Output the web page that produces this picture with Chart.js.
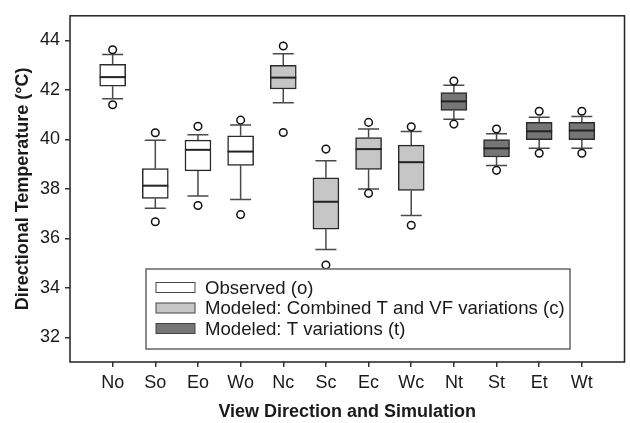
<!DOCTYPE html>
<html>
<head>
<meta charset="utf-8">
<script src="https://cdn.jsdelivr.net/npm/chart.js@4.4.1/dist/chart.umd.min.js"></script>
<style>
  body { margin: 0; background: #fff; }
  #wrap { width: 630px; height: 423px; position: relative; }
</style>
</head>
<body>
<div id="wrap"><canvas id="boxChart"></canvas></div>
<script>
// categories and which simulation group each belongs to
const categories = ['No', 'So', 'Eo', 'Wo', 'Nc', 'Sc', 'Ec', 'Wc', 'Nt', 'St', 'Et', 'Wt'];
const groups = ['o', 'o', 'o', 'o', 'c', 'c', 'c', 'c', 't', 't', 't', 't'];

// box statistics (deg C)
const lowOutlier  = [41.40, 36.67, 37.33, 36.96, 40.28, 34.92, 37.82, 36.53, 40.62, 38.75, 39.44, 39.44];
const lowWhisker  = [41.65, 37.22, 37.71, 37.57, 41.48, 35.55, 38.00, 36.92, 40.82, 38.95, 39.64, 39.64];
const q1          = [42.15, 37.61, 38.73, 38.95, 42.04, 36.37, 38.79, 37.94, 41.17, 39.29, 39.99, 39.99];
const median      = [42.52, 38.13, 39.58, 39.51, 42.50, 37.48, 39.61, 39.08, 41.54, 39.64, 40.33, 40.36];
const q3          = [43.04, 38.82, 39.97, 40.15, 43.00, 38.45, 40.08, 39.77, 41.90, 39.99, 40.69, 40.69];
const highWhisker = [43.43, 39.97, 40.19, 40.58, 43.47, 39.14, 40.42, 40.32, 42.19, 40.23, 40.90, 40.93];
const highOutlier = [43.63, 40.27, 40.53, 40.78, 43.78, 39.61, 40.69, 40.51, 42.36, 40.42, 41.14, 41.14];

const yTicks = [32, 34, 36, 38, 40, 42, 44];

const groupNames = {
    o: 'Observed (o)',
    c: 'Modeled: Combined T and VF variations (c)',
    t: 'Modeled: T variations (t)'
};
const groupFill = { o: '#ffffff', c: '#c6c6c6', t: '#767676' };

const FONT = "'Liberation Sans', Arial, sans-serif";
const INK = '#1a1a1a';

function boxData(g) {
    const out = [];
    categories.forEach(function(c, i) {
        if (groups[i] === g) out.push({ x: i + 1, y: [q1[i], q3[i]] });
    });
    return out;
}

const outlierPoints = [];
categories.forEach(function(c, i) {
    outlierPoints.push({ x: i + 1, y: lowOutlier[i] });
    outlierPoints.push({ x: i + 1, y: highOutlier[i] });
});

// whiskers, medians, frame and legend
const boxExtras = {
    id: 'boxExtras',
    beforeDatasetsDraw(chart) {
        const ctx = chart.ctx;
        const xs = chart.scales.x, ys = chart.scales.y;
        ctx.save();
        ctx.strokeStyle = '#4a4a4a';
        ctx.lineWidth = 1.5;
        categories.forEach(function(c, i) {
            const x = xs.getPixelForValue(i + 1);
            const half = 10.5;
            ctx.beginPath();
            ctx.moveTo(x, ys.getPixelForValue(q3[i]));
            ctx.lineTo(x, ys.getPixelForValue(highWhisker[i]));
            ctx.moveTo(x - half, ys.getPixelForValue(highWhisker[i]));
            ctx.lineTo(x + half, ys.getPixelForValue(highWhisker[i]));
            ctx.moveTo(x, ys.getPixelForValue(q1[i]));
            ctx.lineTo(x, ys.getPixelForValue(lowWhisker[i]));
            ctx.moveTo(x - half, ys.getPixelForValue(lowWhisker[i]));
            ctx.lineTo(x + half, ys.getPixelForValue(lowWhisker[i]));
            ctx.stroke();
        });
        ctx.restore();
    },
    afterDatasetsDraw(chart) {
        const ctx = chart.ctx;
        const xs = chart.scales.x, ys = chart.scales.y;
        ctx.save();
        ctx.strokeStyle = '#222';
        ctx.lineWidth = 2;
        categories.forEach(function(c, i) {
            const x = xs.getPixelForValue(i + 1);
            const y = ys.getPixelForValue(median[i]);
            ctx.beginPath();
            ctx.moveTo(x - 13, y);
            ctx.lineTo(x + 13, y);
            ctx.stroke();
        });
        ctx.restore();
    },
    afterDraw(chart) {
        const ctx = chart.ctx;
        const a = chart.chartArea;
        ctx.save();
        // plot frame
        ctx.strokeStyle = '#222';
        ctx.lineWidth = 1.5;
        ctx.strokeRect(a.left, a.top, a.right - a.left, a.bottom - a.top);

        // legend box
        const lx = 146, ly = 269, lw = 424, lh = 80;
        ctx.fillStyle = '#fff';
        ctx.fillRect(lx, ly, lw, lh);
        ctx.strokeStyle = '#666';
        ctx.lineWidth = 1.5;
        ctx.strokeRect(lx, ly, lw, lh);
        ctx.font = '18.6px ' + FONT;
        ctx.textBaseline = 'middle';
        ['o', 'c', 't'].forEach(function(g, k) {
            const cy = 287.5 + k * 20.5;
            ctx.fillStyle = groupFill[g];
            ctx.fillRect(156, cy - 5, 39, 10);
            ctx.strokeStyle = '#444';
            ctx.lineWidth = 1;
            ctx.strokeRect(156, cy - 5, 39, 10);
            ctx.fillStyle = INK;
            ctx.fillText(groupNames[g], 205, cy + 1);
        });
        ctx.restore();
    }
};

const ctx = document.getElementById('boxChart').getContext('2d');
new Chart(ctx, {
    type: 'bar',
    data: {
        datasets: ['o', 'c', 't'].map(function(g) {
            return {
                type: 'bar',
                label: groupNames[g],
                data: boxData(g),
                backgroundColor: groupFill[g],
                borderColor: '#2a2a2a',
                borderWidth: 1.5,
                borderSkipped: false,
                barThickness: 26,
                grouped: false,
                order: 2
            };
        }).concat([{
            type: 'scatter',
            label: 'outliers',
            data: outlierPoints,
            pointRadius: 3.8,
            pointBorderWidth: 1.5,
            borderColor: '#111',
            backgroundColor: '#fff',
            order: 1
        }])
    },
    options: {
        responsive: true,
        maintainAspectRatio: false,
        animation: false,
        events: [],
        layout: { padding: { top: 5, right: 3, left: 0, bottom: 0 } },
        plugins: {
            legend: { display: false },
            tooltip: { enabled: false }
        },
        scales: {
            x: {
                type: 'linear',
                min: 0,
                max: 13,
                offset: false,
                afterBuildTicks: function(scale) {
                    scale.ticks = categories.map(function(c, i) { return { value: i + 1 }; });
                },
                afterFit: function(scale) { scale.height = 61; },
                grid: { offset: false, drawOnChartArea: false, drawTicks: true, tickLength: 5, tickColor: '#333', lineWidth: 1.5 },
                border: { display: false },
                ticks: {
                    autoSkip: false,
                    maxRotation: 0,
                    padding: 5,
                    color: INK,
                    font: { family: FONT, size: 18 },
                    callback: function(v) { return categories[v - 1] || ''; }
                },
                title: {
                    display: true,
                    text: 'View Direction and Simulation',
                    color: INK,
                    font: { family: FONT, size: 18, weight: 'bold' },
                    padding: { top: 0, bottom: 0 }
                }
            },
            y: {
                min: 31,
                max: 45,
                afterBuildTicks: function(scale) {
                    scale.ticks = yTicks.map(function(v) { return { value: v }; });
                },
                afterFit: function(scale) { scale.width = 70; },
                grid: { drawOnChartArea: false, drawTicks: true, tickLength: 5, tickColor: '#333', lineWidth: 1.5 },
                border: { display: false },
                ticks: {
                    padding: 5,
                    color: INK,
                    font: { family: FONT, size: 18 }
                },
                title: {
                    display: true,
                    text: 'Directional Temperature (°C)',
                    color: INK,
                    font: { family: FONT, size: 18, weight: 'bold' },
                    padding: { top: 12, bottom: 0 }
                }
            }
        }
    },
    plugins: [boxExtras]
});
</script>
</body>
</html>
